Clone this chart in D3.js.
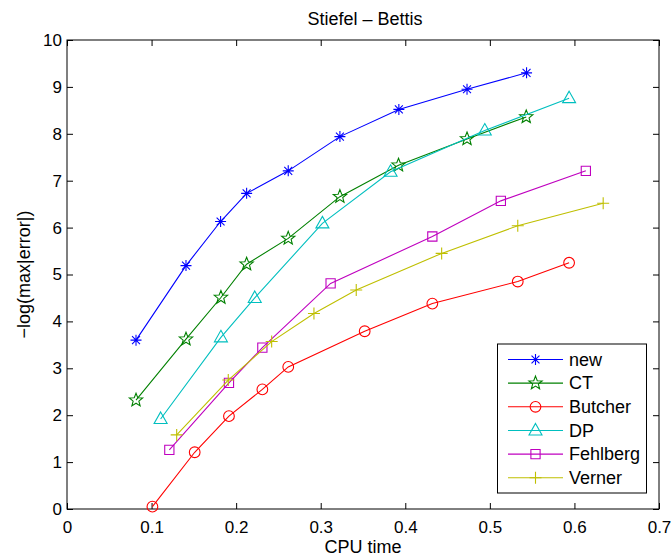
<!DOCTYPE html>
<html>
<head>
<meta charset="utf-8">
<script src="https://cdn.jsdelivr.net/npm/d3@7"></script>
<style>
  body { margin: 0; background: #fff; }
  svg { display: block; font-family: "Liberation Sans", Arial, Helvetica, sans-serif; }
</style>
</head>
<body>
<svg width="672" height="558"></svg>
<script>
var seriesNames = ["new", "CT", "Butcher", "DP", "Fehlberg", "Verner"];
var seriesColors = ["#0000ff", "#008000", "#ff0000", "#00bfbf", "#bf00bf", "#bfbf00"];
var seriesMarkers = ["asterisk", "star", "circle", "triangle", "square", "plus"];

var newX = [0.0816, 0.1407, 0.1816, 0.2124, 0.2616, 0.3227, 0.3924, 0.473, 0.5434];
var newY = [3.6, 5.19, 6.13, 6.73, 7.21, 7.94, 8.52, 8.95, 9.30];
var ctX = [0.0816, 0.1407, 0.182, 0.2124, 0.2616, 0.3227, 0.392, 0.473, 0.543];
var ctY = [2.32, 3.62, 4.51, 5.22, 5.77, 6.66, 7.33, 7.89, 8.36];
var butcherX = [0.101, 0.151, 0.1915, 0.231, 0.2616, 0.352, 0.432, 0.533, 0.5937];
var butcherY = [0.05, 1.21, 1.98, 2.55, 3.03, 3.79, 4.38, 4.85, 5.25];
var dpX = [0.1107, 0.182, 0.222, 0.302, 0.3826, 0.494, 0.5937];
var dpY = [1.92, 3.66, 4.5, 6.09, 7.19, 8.07, 8.76];
var fehlbergX = [0.121, 0.1915, 0.231, 0.3117, 0.432, 0.513, 0.6135];
var fehlbergY = [1.26, 2.69, 3.44, 4.81, 5.81, 6.57, 7.21];
var vernerX = [0.1297, 0.1907, 0.242, 0.292, 0.342, 0.443, 0.533, 0.634];
var vernerY = [1.58, 2.75, 3.57, 4.17, 4.67, 5.45, 6.04, 6.52];

var xTicks = [0, 0.1, 0.2, 0.3, 0.4, 0.5, 0.6, 0.7];
var yTicks = [0, 1, 2, 3, 4, 5, 6, 7, 8, 9, 10];

var allX = [newX, ctX, butcherX, dpX, fehlbergX, vernerX];
var allY = [newY, ctY, butcherY, dpY, fehlbergY, vernerY];

var margin = {left: 67, right: 13, top: 40, bottom: 49};
var width = 672, height = 558;
var svg = d3.select("svg");

var x = d3.scaleLinear().domain([0, 0.7]).range([margin.left, width - margin.right]);
var y = d3.scaleLinear().domain([0, 10]).range([height - margin.bottom, margin.top]);

var tickLen = 6;

// axes with inward ticks
svg.append("g")
    .attr("transform", "translate(0," + y(0) + ")")
    .call(d3.axisBottom(x).tickValues(xTicks).tickSizeInner(-tickLen).tickSizeOuter(0).tickPadding(12)
        .tickFormat(d => d === 0 ? "0" : d3.format(".1f")(d)))
    .call(g => g.select(".domain").remove());
svg.append("g")
    .attr("transform", "translate(0," + y(10) + ")")
    .call(d3.axisTop(x).tickValues(xTicks).tickSizeInner(-tickLen).tickSizeOuter(0).tickFormat(""))
    .call(g => g.select(".domain").remove());
svg.append("g")
    .attr("transform", "translate(" + x(0) + ",0)")
    .call(d3.axisLeft(y).tickValues(yTicks).tickSizeInner(-tickLen).tickSizeOuter(0).tickPadding(5))
    .call(g => g.select(".domain").remove());
svg.append("g")
    .attr("transform", "translate(" + x(0.7) + ",0)")
    .call(d3.axisRight(y).tickValues(yTicks).tickSizeInner(-tickLen).tickSizeOuter(0).tickFormat(""))
    .call(g => g.select(".domain").remove());

svg.selectAll(".tick text")
    .attr("font-size", 17)
    .attr("fill", "#000")
    .attr("font-family", "Liberation Sans, Arial, sans-serif");
svg.selectAll(".tick line").attr("stroke", "#000");

svg.append("rect")
    .attr("x", x(0)).attr("y", y(10))
    .attr("width", x(0.7) - x(0)).attr("height", y(0) - y(10))
    .attr("fill", "none").attr("stroke", "#000").attr("stroke-width", 1);

// marker paths centred on 0,0
function markerPath(type) {
  var p = d3.path();
  if (type === "asterisk") {
    var r = 5.5, d = r * 0.72;
    p.moveTo(-r, 0); p.lineTo(r, 0);
    p.moveTo(0, -r); p.lineTo(0, r);
    p.moveTo(-d, -d); p.lineTo(d, d);
    p.moveTo(-d, d); p.lineTo(d, -d);
    return p.toString();
  }
  if (type === "plus") {
    var r2 = 6;
    p.moveTo(-r2, 0); p.lineTo(r2, 0);
    p.moveTo(0, -r2); p.lineTo(0, r2);
    return p.toString();
  }
  if (type === "circle") return d3.symbol(d3.symbolCircle, 90)();
  if (type === "square") return d3.symbol(d3.symbolSquare, 85)();
  if (type === "triangle") {
    p.moveTo(0, -7); p.lineTo(6.5, 4.5); p.lineTo(-6.5, 4.5); p.closePath();
    return p.toString();
  }
  if (type === "star") {
    var R = 7, ri = 3;
    for (var i = 0; i < 10; i++) {
      var a = -Math.PI / 2 + i * Math.PI / 5;
      var rr = i % 2 === 0 ? R : ri;
      if (i === 0) p.moveTo(rr * Math.cos(a), rr * Math.sin(a));
      else p.lineTo(rr * Math.cos(a), rr * Math.sin(a));
    }
    p.closePath();
    return p.toString();
  }
}

var line = d3.line().x(d => x(d[0])).y(d => y(d[1]));

seriesNames.forEach(function(name, i) {
  var pts = d3.zip(allX[i], allY[i]);
  var g = svg.append("g");
  g.append("path")
      .datum(pts)
      .attr("d", line)
      .attr("fill", "none")
      .attr("stroke", seriesColors[i])
      .attr("stroke-width", 1.1);
  g.selectAll("path.mk")
      .data(pts)
      .enter().append("path")
      .attr("class", "mk")
      .attr("transform", d => "translate(" + x(d[0]) + "," + y(d[1]) + ")")
      .attr("d", markerPath(seriesMarkers[i]))
      .attr("fill", "none")
      .attr("stroke", seriesColors[i])
      .attr("stroke-width", 1.1);
});

// legend
var lg = svg.append("g");
lg.append("rect")
    .attr("x", 497.5).attr("y", 344)
    .attr("width", 149).attr("height", 149)
    .attr("fill", "#fff").attr("stroke", "#000").attr("stroke-width", 1);
seriesNames.forEach(function(name, i) {
  var ly = 359.5 + i * 23.65;
  lg.append("line")
      .attr("x1", 508).attr("x2", 563).attr("y1", ly).attr("y2", ly)
      .attr("stroke", seriesColors[i]).attr("stroke-width", 1.1);
  lg.append("path")
      .attr("transform", "translate(535.5," + ly + ")")
      .attr("d", markerPath(seriesMarkers[i]))
      .attr("fill", "none")
      .attr("stroke", seriesColors[i])
      .attr("stroke-width", 1.1);
  lg.append("text")
      .attr("x", 569).attr("y", ly + 6.3)
      .attr("font-size", 18)
      .text(name);
});

// titles
svg.append("text")
    .attr("x", 365).attr("y", 25)
    .attr("text-anchor", "middle").attr("font-size", 18)
    .text("Stiefel \u2013 Bettis");
svg.append("text")
    .attr("x", (x(0) + x(0.7)) / 2).attr("y", 553)
    .attr("text-anchor", "middle").attr("font-size", 18)
    .text("CPU time");
svg.append("text")
    .attr("transform", "translate(30," + ((y(0) + y(10)) / 2) + ") rotate(-90)")
    .attr("text-anchor", "middle").attr("font-size", 18)
    .text("\u2212log(max|error|)");
</script>
</body>
</html>
